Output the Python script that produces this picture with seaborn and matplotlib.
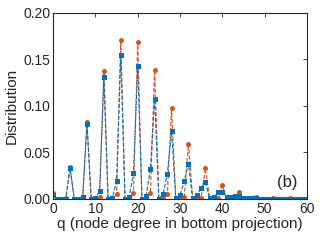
import numpy as np
import pandas as pd
import matplotlib
matplotlib.use("Agg")
import matplotlib.pyplot as plt
import seaborn as sns
from matplotlib.ticker import FormatStrFormatter

q = list(range(61))
dist_orange = [0.006, 0, 0, 0.001, 0.034, 0, 0, 0.001, 0.083, 0,
               0, 0.0025, 0.138, 0, 0, 0.005, 0.171, 0, 0.0005, 0.006,
               0.169, 0, 0.001, 0.006, 0.139, 0, 0.001, 0.005, 0.098, 0,
               0.001, 0.0025, 0.059, 0.0005, 0.001, 0.0015, 0.033, 0.0005, 0.0005, 0.001,
               0.015, 0, 0, 0.0005, 0.007, 0, 0, 0, 0.0025, 0,
               0, 0, 0.001, 0, 0, 0, 0.0007, 0, 0, 0, 0]
dist_blue = [0.004, 0, 0, 0, 0.033, 0, 0, 0.0025, 0.081, 0,
             0.001, 0.009, 0.131, 0, 0.001, 0.019, 0.155, 0, 0.002, 0.028,
             0.143, 0, 0.0035, 0.032, 0.108, 0, 0.005, 0.027, 0.073, 0.001,
             0.004, 0.019, 0.038, 0.0005, 0.004, 0.012, 0.018, 0.001, 0.0025, 0.007,
             0.007, 0.002, 0.002, 0.003, 0.003, 0.001, 0.001, 0.0005, 0.001, 0.0003,
             0.0003, 0.0003, 0.0003, 0.0003, 0.0003, 0.0003, 0.0003, 0.0003, 0.0003, 0.0003, 0.0003]
x_ticks = [0, 10, 20, 30, 40, 50, 60]
y_ticks = [0.00, 0.05, 0.10, 0.15, 0.20]

sns.set_style("white")
plt.rcParams['font.family'] = ['Liberation Sans', 'DejaVu Sans']

df = pd.DataFrame({"q": q, "orange": dist_orange, "blue": dist_blue})

fig = plt.figure(figsize=(3.2, 2.4), dpi=100)
ax = fig.add_axes([0.166, 0.171, 0.793, 0.775])

sns.lineplot(data=df, x="q", y="orange", ax=ax, color="#D95319", linestyle="--",
             linewidth=0.8, marker="o", markersize=3.6, markeredgewidth=0)
sns.lineplot(data=df, x="q", y="blue", ax=ax, color="#0072BD", linestyle="--",
             linewidth=0.8, marker="s", markersize=3.6, markeredgewidth=0)

ax.set_xlim(0, 60)
ax.set_ylim(0, 0.20)
ax.set_xticks(x_ticks)
ax.set_yticks(y_ticks)
ax.yaxis.set_major_formatter(FormatStrFormatter('%.2f'))
ax.set_xlabel("q (node degree in bottom projection)", fontsize=11, color="#262626", labelpad=1)
ax.set_ylabel("Distribution", fontsize=11, color="#262626", labelpad=3)
ax.tick_params(direction="in", length=3, width=0.6, labelsize=10, colors="#262626",
               top=True, right=True, pad=2)
for s in ax.spines.values():
    s.set_linewidth(0.8)
    s.set_color("#262626")
ax.text(55.4, 0.0177, "(b)", fontsize=12, color="#262626", ha="center", va="center")

fig.savefig("out.png", dpi=100)
